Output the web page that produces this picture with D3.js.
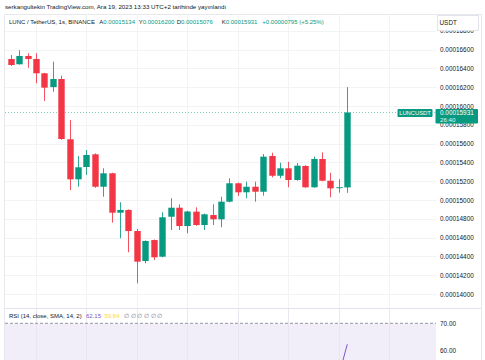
<!DOCTYPE html>
<html><head><meta charset="utf-8">
<script src="https://cdn.jsdelivr.net/npm/d3@7"></script>
<style>
html,body{margin:0;padding:0;background:#fff;}
svg{display:block;font-family:"Liberation Sans",Arial,sans-serif;}
</style></head>
<body>
<svg id="c" width="485" height="360"></svg>
<script>
// ---- data (prices in USDT) ----
const opens  = [0.00016500,0.00016444,0.00016532,0.00016500,0.00016348,0.00016201,0.00016287,0.00015646,0.00015220,0.00015351,
                0.00015486,0.00015141,0.00015284,0.00014865,0.00014894,0.00014670,0.00014351,0.00014574,0.00014397,0.00014822,
                0.00014918,0.00014723,0.00014876,0.00014734,0.00014840,0.00014795,0.00014982,0.00015178,0.00015082,0.00015141,
                0.00015088,0.00015468,0.00015258,0.00015337,0.00015213,0.00015362,0.00015135,0.00015436,0.00015205,0.00015134,
                0.00015134];
const highs  = [0.00016543,0.00016593,0.00016561,0.00016561,0.00016352,0.00016471,0.00016322,0.00015851,0.00015468,0.00015532,
                0.00015497,0.00015337,0.00015290,0.00014976,0.00014900,0.00014692,0.00014570,0.00014580,0.00014869,0.00015018,
                0.00014954,0.00014885,0.00014922,0.00014855,0.00014954,0.00015035,0.00015231,0.00015185,0.00015195,0.00015195,
                0.00015489,0.00015503,0.00015397,0.00015407,0.00015394,0.00015370,0.00015461,0.00015507,0.00015290,0.00015220,
                0.00016200];
const lows   = [0.00016426,0.00016440,0.00016407,0.00016241,0.00016053,0.00016152,0.00015640,0.00015106,0.00015141,0.00015266,
                0.00015130,0.00015035,0.00014759,0.00014593,0.00014444,0.00014114,0.00014327,0.00014362,0.00014390,0.00014681,
                0.00014681,0.00014646,0.00014725,0.00014681,0.00014734,0.00014710,0.00014975,0.00015043,0.00015018,0.00014982,
                0.00015046,0.00015241,0.00015231,0.00015135,0.00015205,0.00015130,0.00015130,0.00015200,0.00015029,0.00015078,
                0.00015076];
const closes = [0.00016436,0.00016532,0.00016500,0.00016348,0.00016195,0.00016287,0.00015649,0.00015220,0.00015348,0.00015479,
                0.00015141,0.00015284,0.00014865,0.00014894,0.00014670,0.00014344,0.00014564,0.00014390,0.00014816,0.00014918,
                0.00014723,0.00014878,0.00014734,0.00014848,0.00014795,0.00014982,0.00015178,0.00015082,0.00015141,0.00015088,
                0.00015461,0.00015258,0.00015337,0.00015213,0.00015365,0.00015135,0.00015436,0.00015205,0.00015124,0.00015136,
                0.00015931];
const priceTicks = [0.00014000,0.00014200,0.00014400,0.00014600,0.00014800,0.00015000,0.00015200,0.00015400,
                    0.00015600,0.00015800,0.00016000,0.00016200,0.00016400,0.00016600,0.00016800];
const gridIdx = [3,9,15,21,27,33,39,45];
const rsiIdx = [39,40];
const rsiVals = [50.5,62.15];
const rsiTicks = [60,70];

const header = "serkangultekin TradingView.com, Ara 19, 2023 13:33 UTC+2 tarihinde yayınlandı";
const symbolText = "LUNC / TetherUS, 1s, BINANCE";
const ohlcLabels = [["A","0.00015134"],["Y","0.00016200"],["D","0.00015076"],["K","0.00015931"]];
const changeText = "+0.00000795 (+5.25%)";

// ---- colors ----
const UP="#089981", DOWN="#f23645", TXT="#131722", GRID="#f2f3f5";

const svg = d3.select("#c");
const n = closes.length;
const x = d3.scaleLinear().domain([-1.27, 50.66]).range([0, 437]);
const step = x(1)-x(0);
const bw = step*0.76;
const y = d3.scaleLinear().domain([0.00014, 0.00016]).range([294, 106]);
const MAIN_TOP=14, MAIN_BOT=308, PLOT_R=436;

const defs = svg.append("defs");
defs.append("clipPath").attr("id","mainClip").append("rect")
  .attr("x",5).attr("y",MAIN_TOP).attr("width",PLOT_R-5).attr("height",MAIN_BOT-MAIN_TOP);
defs.append("clipPath").attr("id","rsiClip").append("rect")
  .attr("x",5).attr("y",MAIN_BOT+1).attr("width",PLOT_R-5).attr("height",360-MAIN_BOT-1);

// chart frame
svg.append("rect").attr("x",4.5).attr("y",MAIN_TOP+0.5).attr("width",477).attr("height",360)
  .attr("fill","none").attr("stroke","#e6e8ec");

// grid (main)
const gMain = svg.append("g").attr("clip-path","url(#mainClip)");
gMain.selectAll("line.h").data(priceTicks).join("line")
  .attr("x1",5).attr("x2",PLOT_R).attr("y1",d=>Math.round(y(d))+0.5).attr("y2",d=>Math.round(y(d))+0.5)
  .attr("stroke",GRID);
gMain.selectAll("line.v").data(gridIdx).join("line")
  .attr("x1",d=>Math.round(x(d))+0.5).attr("x2",d=>Math.round(x(d))+0.5).attr("y1",MAIN_TOP).attr("y2",MAIN_BOT)
  .attr("stroke",GRID);

// last price dotted line
gMain.append("line").attr("x1",5).attr("x2",PLOT_R)
  .attr("y1",y(closes[n-1])).attr("y2",y(closes[n-1]))
  .attr("stroke",UP).attr("stroke-dasharray","1,2").attr("opacity",0.5);

// candles
const idx = d3.range(n);
const col = i => closes[i] >= opens[i] ? UP : DOWN;
gMain.selectAll("line.wick").data(idx).join("line")
  .attr("x1",i=>Math.round(x(i))+0.5).attr("x2",i=>Math.round(x(i))+0.5)
  .attr("y1",i=>y(highs[i])).attr("y2",i=>y(lows[i]))
  .attr("stroke",col).attr("stroke-width",1).attr("opacity",0.85);
gMain.selectAll("rect.body").data(idx).join("rect")
  .attr("x",i=>Math.round(x(i))+0.5-bw/2).attr("width",bw)
  .attr("y",i=>y(Math.max(opens[i],closes[i])))
  .attr("height",i=>Math.max(1,Math.abs(y(opens[i])-y(closes[i]))))
  .attr("fill",col);

// price axis
const axis = d3.axisRight(y).tickValues(priceTicks).tickFormat(d3.format(".8f")).tickSize(0).tickPadding(0);
const gAx = svg.append("g").attr("transform","translate(440,0)").call(axis);
gAx.select(".domain").remove();
gAx.selectAll("text").attr("fill",TXT).attr("font-size",6.4).attr("font-family","Liberation Sans, Arial, sans-serif");

// last price labels
const ly = y(closes[n-1]);
svg.append("rect").attr("x",397.5).attr("y",ly-3.5).attr("width",35).attr("height",8).attr("fill",UP).attr("rx",1);
svg.append("text").attr("x",415).attr("y",ly+2.3).attr("text-anchor","middle").attr("fill","#fff")
  .attr("font-size",5.8).text("LUNCUSDT");
svg.append("rect").attr("x",435.5).attr("y",ly-3.5).attr("width",42.5).attr("height",14.5).attr("fill",UP).attr("rx",1);
svg.append("text").attr("x",440).attr("y",ly+2.4).attr("fill","#fff").attr("font-size",6.4).text(d3.format(".8f")(closes[n-1]));
svg.append("text").attr("x",440).attr("y",ly+9.2).attr("fill","#fff").attr("font-size",6.2).attr("opacity",0.9).text("26:40");

// header
svg.append("text").attr("x",5).attr("y",9).attr("fill",TXT).attr("font-size",6.2).text(header);

// legend row
const leg = svg.append("text").attr("y",23.5).attr("font-size",6.0).attr("fill",TXT);
leg.append("tspan").attr("x",9).text(symbolText);
const lx = [99.3,138.7,176.7,221.7];
ohlcLabels.forEach((d,k)=>{
  leg.append("tspan").attr("x",lx[k]).attr("fill",TXT).text(d[0]);
  leg.append("tspan").attr("fill",UP).text(d[1]);
});
leg.append("tspan").attr("x",262.3).attr("fill",UP).text(changeText);

// USDT box
svg.append("rect").attr("x",437.5).attr("y",15.5).attr("width",41).attr("height",15).attr("fill","#fff").attr("stroke","#e0e3eb");
svg.append("text").attr("x",439.5).attr("y",24.5).attr("font-size",6.4).attr("fill",TXT).text("USDT");

// pane separator
svg.append("line").attr("x1",5).attr("x2",481).attr("y1",MAIN_BOT+0.5).attr("y2",MAIN_BOT+0.5).attr("stroke","#e0e3eb");

// RSI pane
const ry = d3.scaleLinear().domain([60,70]).range([350,323.3]);
const gR = svg.append("g").attr("clip-path","url(#rsiClip)");
gR.append("rect").attr("x",5).attr("width",PLOT_R-5).attr("y",ry(70)).attr("height",ry(30)-ry(70))
  .attr("fill","#7e57c2").attr("fill-opacity",0.1);
gR.selectAll("line.v").data(gridIdx).join("line")
  .attr("x1",d=>Math.round(x(d))+0.5).attr("x2",d=>Math.round(x(d))+0.5).attr("y1",MAIN_BOT+1).attr("y2",360)
  .attr("stroke","#e9e6f1");
gR.append("line").attr("x1",5).attr("x2",PLOT_R).attr("y1",ry(70)).attr("y2",ry(70))
  .attr("stroke","#9598a1").attr("stroke-dasharray","3,2");
gR.append("path").datum(rsiIdx.map((d,k)=>[d,rsiVals[k]]))
  .attr("d",d3.line().x(d=>x(d[0])).y(d=>ry(d[1])))
  .attr("fill","none").attr("stroke","#7e57c2").attr("stroke-width",1);

const rAx = d3.axisRight(ry).tickValues(rsiTicks).tickFormat(d3.format(".2f")).tickSize(0).tickPadding(0);
const gRA = svg.append("g").attr("transform","translate(440,0)").call(rAx);
gRA.select(".domain").remove();
gRA.selectAll("text").attr("fill",TXT).attr("font-size",6.4).attr("font-family","Liberation Sans, Arial, sans-serif");

const rl = svg.append("text").attr("y",318).attr("font-size",6).attr("fill",TXT);
rl.append("tspan").attr("x",9).text("RSI (14, close, SMA, 14, 2)");
rl.append("tspan").attr("x",86).attr("fill","#7e57c2").text("62.15");
rl.append("tspan").attr("x",104.5).attr("fill","#fdd835").text("59.84");
rl.append("tspan").attr("x",124).attr("fill","#787b86").text("\u2205 \u2205 \u2205 \u2205 \u2205 \u2205");
</script>
</body></html>
